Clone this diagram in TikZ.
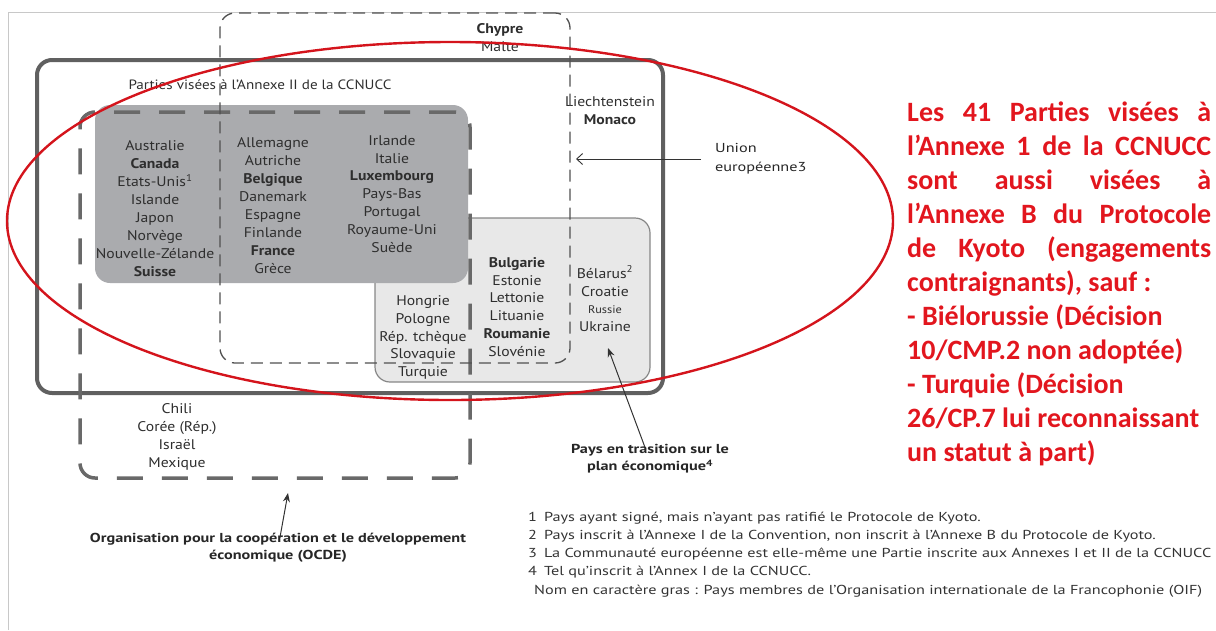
\documentclass[tikz,border=0pt]{standalone}
\usepackage{fontspec}
\setmainfont{PT Sans}
\newfontfamily\midsans[FakeStretch=1.12]{PT Sans}
\newfontfamily\widesans[FakeStretch=1.25]{PT Sans}
\newfontfamily\notefont{Carlito}
\usetikzlibrary{arrows.meta}
\definecolor{boxgray}{RGB}{96,96,96}
\definecolor{annexfill}{RGB}{170,171,174}
\definecolor{eitfill}{RGB}{232,232,232}
\definecolor{eitline}{RGB}{135,135,135}
\definecolor{oecdgray}{RGB}{105,105,105}
\definecolor{eugray}{RGB}{80,80,80}
\definecolor{notered}{RGB}{226,22,30}
\definecolor{ringred}{RGB}{212,20,28}
\definecolor{framegray}{RGB}{200,200,200}

\begin{document}
\begin{tikzpicture}[x=1pt,y=-1pt,
  box/.style={rounded corners=15pt,inner sep=0,outer sep=0},
  country/.style={align=center,inner sep=0,text=black!82,font=\midsans\fontsize{14}{17.9}\selectfont},
  remark/.style={align=center,inner sep=0,text=black!85,font=\widesans\bfseries\fontsize{13}{17}\selectfont},
  pointer/.style={-{Stealth[length=9pt,width=7pt]},line width=1pt,black!80}]
  \useasboundingbox (0,0) rectangle (1216,630);
  \draw[framegray,line width=0.8pt] (8,630) -- (8,12) -- (1216,12);

  \node[box,draw=boxgray,line width=4pt,minimum width=626pt,minimum height=333pt] (annexI) at (350,226.5) {};
  \node[box,fill=eitfill,draw=eitline,line width=1.2pt,minimum width=275pt,minimum height=164pt] (eit) at (512.5,300) {};
  \node[box,fill=annexfill,minimum width=373pt,minimum height=178pt] (annexII) at (281.5,194) {};

  \node[country,font=\midsans\fontsize{13.5}{15}\selectfont] (titleII) at (260,85) {Parties visées à l’Annexe II de la CCNUCC};
  \node[country] (col1) at (155,208.5) {Australie\\\textbf{Canada}\\Etats-Unis\textsuperscript{1}\\Islande\\Japon\\Norvège\\Nouvelle-Zélande\\\textbf{Suisse}};
  \node[country] (col2) at (273,205.5) {Allemagne\\Autriche\\\textbf{Belgique}\\Danemark\\Espagne\\Finlande\\\textbf{France}\\Grèce};
  \node[country] (col3) at (392,194) {Irlande\\Italie\\\textbf{Luxembourg}\\Pays-Bas\\Portugal\\Royaume-Uni\\Suède};
  \node[country] (col4) at (423,337.5) {Hongrie\\Pologne\\Rép. tchèque\\Slovaquie\\Turquie};
  \node[country] (col5) at (517,307) {\textbf{Bulgarie}\\Estonie\\Lettonie\\Lituanie\\\textbf{Roumanie}\\Slovénie};
  \node[country] (col6) at (605,299) {Bélarus\textsuperscript{2}\\Croatie\\{\fontsize{11}{17.9}\selectfont Russie}\\Ukraine};
  \node[country] (col7) at (177,437) {Chili\\Corée (Rép.)\\Israël\\Mexique};
  \node[country] (micro) at (610,111) {Liechtenstein\\\textbf{Monaco}};
  \node[country] (islands) at (500,37.5) {\textbf{Chypre}\\Malte};

  \node[box,draw=oecdgray,line width=3.5pt,dash pattern=on 26pt off 19pt,minimum width=390pt,minimum height=366pt] (oecd) at (275,295) {};
  \node[box,draw=eugray,line width=1.3pt,dash pattern=on 12pt off 7pt,minimum width=350pt,minimum height=350pt] (eu) at (395,188) {};

  \node[remark,anchor=west,align=left,font=\widesans\fontsize{13}{19}\selectfont] (union) at (715,159) {Union\\européenne3};
  \draw[-{Straight Barb[length=6pt,width=11pt]},line width=0.9pt,black!80,shorten >=6pt] ([xshift=-14pt]union.west) -- (union.west -| eu.east);

  \node[remark] (eitnote) at (650,459) {Pays en trasition sur le\\plan économique\textsuperscript{4}};
  \coordinate (eittip) at (608,348);
  \draw[pointer] ([xshift=-5pt,yshift=-3pt]eitnote.north) -- (eittip);

  \node[remark] (oecdnote) at (278,548) {Organisation pour la coopération et le développement\\économique (OCDE)};
  \coordinate (oecdtip) at (288,493);
  \draw[pointer] ([xshift=2pt,yshift=-4pt]oecdnote.north) -- (oecdtip);

  \node[anchor=north west,inner sep=0,text=black!80,font=\widesans\fontsize{13}{18.3}\selectfont] (notes) at (528,508) {%
    \begin{tabular}{@{}l@{\hspace{7pt}}l@{}}
      1 & Pays ayant signé, mais n’ayant pas ratifié le Protocole de Kyoto.\\
      2 & Pays inscrit à l’Annexe I de la Convention, non inscrit à l’Annexe B du Protocole de Kyoto.\\
      3 & La Communauté européenne est elle-même une Partie inscrite aux Annexes I et II de la CCNUCC\\
      4 & Tel qu’inscrit à l’Annex I de la CCNUCC.\\
      \multicolumn{2}{@{}l@{}}{\hspace{6pt}Nom en caractère gras : Pays membres de l’Organisation internationale de la Francophonie (OIF)}
    \end{tabular}};

  \node[anchor=north west,inner sep=0,text width=304pt,align=justify,text=notered,font=\notefont\bfseries\fontsize{28}{34}\selectfont] (kyoto) at (907,102) {Les 41 Parties visées à\linebreak l’Annexe 1 de la CCNUCC\linebreak sont aussi visées à\linebreak l’Annexe B du Protocole\linebreak de Kyoto (engagements\linebreak contraignants), sauf :\\- Biélorussie (Décision\\10/CMP.2 non adoptée)\\- Turquie (Décision\\26/CP.7 lui reconnaissant\\un statut à part)};

  \draw[ringred,line width=2.4pt] (450,221) ellipse [x radius=443,y radius=179];
\end{tikzpicture}
\end{document}
